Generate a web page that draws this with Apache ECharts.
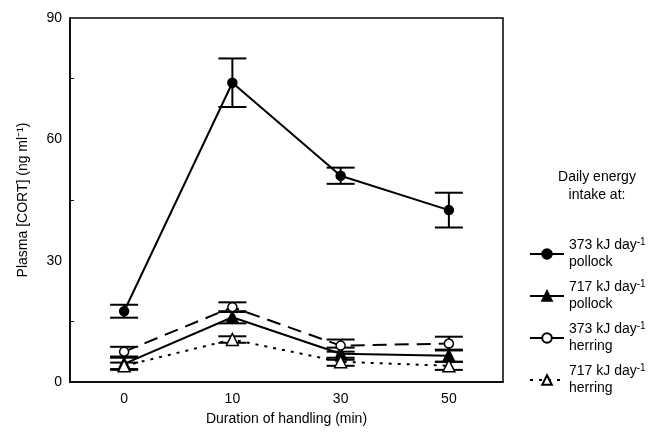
<!DOCTYPE html>
<html><head><meta charset="utf-8">
<script src="https://cdn.jsdelivr.net/npm/echarts@6/dist/echarts.min.js"></script>
<style>html,body{margin:0;background:#fff}#c{width:671px;height:432px}</style>
</head><body><div id="c"></div>
<script>
var durations = ['0', '10', '30', '50'];
var names = ['s1', 's2', 's3', 's4'];
var legendText = {
    s1: ['373 kJ day', 'pollock'],
    s2: ['717 kJ day', 'pollock'],
    s3: ['373 kJ day', 'herring'],
    s4: ['717 kJ day', 'herring']
};
var means = [
    [17.5, 74, 51, 42.5],
    [4.5, 16, 7, 6.5],
    [7.5, 18.5, 9, 9.5],
    [4, 10.5, 5, 4]
];
var errs = [
    [1.6, 6, 2, 4.3],
    [1.5, 1.5, 1.5, 1.5],
    [1.2, 1.2, 1.5, 1.7],
    [0.8, 0.8, 1, 1]
];
var symbols = ['circle', 'triangle', 'circle', 'triangle'];
var fills = ['#000', '#000', '#fff', '#fff'];
var dashes = ['solid', 'solid', [14, 8], [3, 6]];

var myChart = echarts.init(document.getElementById('c'));
var series = [];
means.forEach(function (m, i) {
    series.push({
        type: 'custom',
        z: 3,
        data: m.map(function (v, j) { return [j, v - errs[i][j], v + errs[i][j]]; }),
        renderItem: function (params, api) {
            var lo = api.coord([api.value(0), api.value(1)]);
            var hi = api.coord([api.value(0), api.value(2)]);
            var w = 14;
            var st = { stroke: '#000', lineWidth: 2 };
            return { type: 'group', children: [
                { type: 'line', shape: { x1: lo[0], y1: lo[1], x2: hi[0], y2: hi[1] }, style: st },
                { type: 'line', shape: { x1: lo[0] - w, y1: lo[1], x2: lo[0] + w, y2: lo[1] }, style: st },
                { type: 'line', shape: { x1: hi[0] - w, y1: hi[1], x2: hi[0] + w, y2: hi[1] }, style: st }
            ]};
        }
    });
    series.push({
        name: names[i],
        type: 'line',
        z: 4,
        data: m,
        symbol: symbols[i],
        symbolSize: i % 2 ? 12 : 9,
        showAllSymbol: true,
        lineStyle: { color: '#000', width: 2, type: dashes[i] },
        itemStyle: { color: fills[i], borderColor: '#000', borderWidth: 1.5 }
    });
});

var option = {
    animation: false,
    textStyle: { fontFamily: 'Liberation Sans, Arial', color: '#000' },
    grid: { left: 70, right: 168, top: 18, bottom: 50, show: true, borderColor: '#000', borderWidth: 1.5 },
    xAxis: {
        type: 'category', data: durations, boundaryGap: true,
        name: 'Duration of handling (min)', nameLocation: 'middle', nameGap: 30,
        nameTextStyle: { fontSize: 14, color: '#000' },
        axisLine: { lineStyle: { color: '#000', width: 1.5 } },
        axisTick: { inside: true, alignWithLabel: false, lineStyle: { color: '#000' } },
        axisLabel: { fontSize: 14, color: '#000', margin: 10 }
    },
    yAxis: {
        type: 'value', min: 0, max: 90, interval: 30,
        name: 'Plasma [CORT] (ng ml⁻¹)', nameLocation: 'middle', nameGap: 40,
        nameTextStyle: { fontSize: 14, color: '#000' },
        axisLine: { show: true, lineStyle: { color: '#000', width: 1.5 } },
        axisTick: { inside: true, lineStyle: { color: '#000' } },
        minorTick: { show: true, splitNumber: 2, length: 4, lineStyle: { color: '#000' } },
        splitLine: { show: false },
        axisLabel: { fontSize: 14, color: '#000' }
    },
    graphic: [{
        type: 'text', x: 597, y: 168,
        style: { text: 'Daily energy\nintake at:', fill: '#000', align: 'center', lineHeight: 18, font: '14px Liberation Sans' }
    }],
    legend: {
        orient: 'vertical', left: 524, top: 232, itemWidth: 34, itemHeight: 12, itemGap: 8,
        data: names,
        formatter: function (n) {
            return legendText[n][0] + '{sup|-1}\n' + legendText[n][1];
        },
        textStyle: {
            fontSize: 14, color: '#000', lineHeight: 17,
            rich: { sup: { fontSize: 10, verticalAlign: 'top', padding: [0, 0, 8, 0], color: '#000' } }
        }
    },
    series: series
};
myChart.setOption(option);
</script>
</body></html>
